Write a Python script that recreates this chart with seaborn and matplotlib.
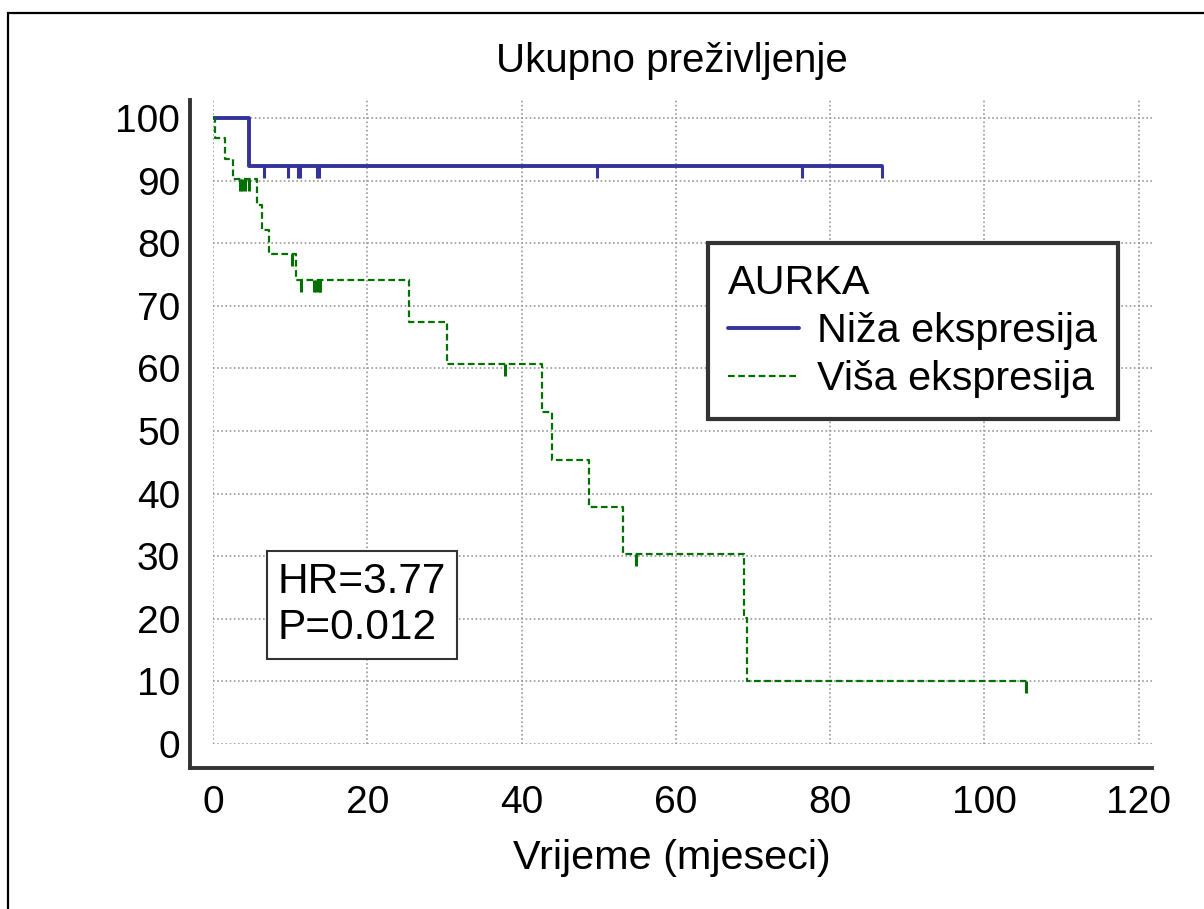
import numpy as np
import pandas as pd
import matplotlib
matplotlib.use('Agg')
import matplotlib.pyplot as plt
from matplotlib.path import Path
from matplotlib.patches import Rectangle
from matplotlib.ticker import MultipleLocator
import seaborn as sns

# krivulje prezivljenja (ocitano sa slike)
grupe = ['Niža ekspresija', 'Viša ekspresija']

niza_t = [0, 4.7, 86.7]
niza_s = [100, 92.3, 92.3]
niza_cens_t = [6.6, 9.7, 11.0, 11.3, 13.5, 13.8, 49.8, 76.3, 86.7]
niza_cens_s = [92.3] * len(niza_cens_t)

visa_t = [0, 0.2, 1.5, 2.55, 5.7, 6.4, 7.3, 10.8, 25.4, 30.3, 42.7, 44.0,
          48.7, 53.2, 68.9, 69.2, 105.4]
visa_s = [100, 96.8, 93.5, 90.3, 86.2, 82.2, 78.3, 74.2, 67.5, 60.7, 53.0,
          45.4, 37.9, 30.3, 20.2, 10.1, 10.1]
visa_cens_t = [3.5, 3.8, 4.2, 4.7, 10.2, 11.4, 13.1, 13.4, 13.7, 13.9, 37.9,
               54.8, 105.4]
visa_cens_s = [90.3] * 4 + [78.3] + [74.2] * 5 + [60.7, 30.3, 10.1]

x_ticks = [0, 20, 40, 60, 80, 100, 120]
y_ticks = [0, 10, 20, 30, 40, 50, 60, 70, 80, 90, 100]

boje = {'Niža ekspresija': '#333399', 'Viša ekspresija': '#007000'}

df = pd.DataFrame({
    'vrijeme': niza_t + visa_t,
    'prezivljenje': niza_s + visa_s,
    'grupa': [grupe[0]] * len(niza_t) + [grupe[1]] * len(visa_t),
})

sns.set_theme(style='white')
plt.rcParams['font.family'] = ['Liberation Sans', 'DejaVu Sans']
plt.rcParams['text.color'] = 'black'
plt.rcParams['axes.labelcolor'] = 'black'

fig = plt.figure(figsize=(12.04, 9.09), dpi=100)
ax = fig.add_axes([213 / 1204, 165 / 909, 938.7 / 1204, 644 / 909])

sns.lineplot(data=df, x='vrijeme', y='prezivljenje', hue='grupa', style='grupa',
             size='grupa', palette=boje,
             dashes={grupe[0]: '', grupe[1]: (3, 1.6)},
             sizes={grupe[0]: 2.8, grupe[1]: 1.6},
             estimator=None, sort=False, drawstyle='steps-post',
             legend=False, ax=ax, zorder=3)

# cenzurirani slucajevi - crtica prema dolje
crtica = Path([(0, 0), (0, -1)])
sns.scatterplot(x=niza_cens_t, y=niza_cens_s, marker=crtica, s=300,
                color=boje[grupe[0]], edgecolor=boje[grupe[0]], linewidth=2.2,
                ax=ax, zorder=4)
sns.scatterplot(x=visa_cens_t, y=visa_cens_s, marker=crtica, s=300,
                color=boje[grupe[1]], edgecolor=boje[grupe[1]], linewidth=2.2,
                ax=ax, zorder=4)

ax.set_xlim(0, 121.7)
ax.set_ylim(0, 102.9)
ax.set_xticks(x_ticks)
ax.set_yticks(y_ticks)
ax.xaxis.set_minor_locator(MultipleLocator(10))
ax.yaxis.set_minor_locator(MultipleLocator(5))

ax.grid(True, which='major', color='#999999', linestyle=(0, (1, 1.5)), linewidth=1.2)
ax.set_axisbelow(True)

for s in ['top', 'right']:
    ax.spines[s].set_visible(False)
ax.spines['left'].set_position(('outward', 16.6))
ax.spines['bottom'].set_position(('outward', 17.3))
ax.spines['left'].set_bounds(-3.83, 102.9)
ax.spines['bottom'].set_bounds(-2.98, 121.7)
for s in ['left', 'bottom']:
    ax.spines[s].set_color('#333333')
    ax.spines[s].set_linewidth(2.8)

ax.tick_params(which='major', direction='in', length=11.5, width=2.2,
               color='#333333', labelsize=28, pad=7, labelcolor='black')
ax.tick_params(which='minor', direction='in', length=5.8, width=1.4,
               color='#333333')
ax.tick_params(axis='x', which='major', pad=12)

ax.set_title('Ukupno preživljenje', fontsize=29, pad=20, x=0.489)
ax.set_xlabel('Vrijeme (mjeseci)', fontsize=29.8, labelpad=13, x=0.489)
ax.set_ylabel('')

leg = ax.legend(ax.lines[:2], grupe, title='AURKA', loc='upper left',
                bbox_to_anchor=(0.527, 0.778), fontsize=29.8, title_fontsize=29.8,
                alignment='left', frameon=True, fancybox=False, framealpha=1,
                handlelength=1.7, handletextpad=0.45, labelspacing=0.25,
                borderpad=0.5, borderaxespad=0)
leg.get_frame().set_edgecolor('#333333')
leg.get_frame().set_linewidth(3)

ax.text(0.069, 0.283, 'HR=3.77\nP=0.012', transform=ax.transAxes, fontsize=30.5,
        ha='left', va='top', linespacing=1.2,
        bbox=dict(boxstyle='square,pad=0.25', fc='white', ec='#333333', lw=1.5))

# okvir slike
fig.add_artist(Rectangle((8 / 1204, -0.1), 1.2, (909 - 13) / 909 + 0.1,
                         transform=fig.transFigure, fill=False, lw=1.6,
                         ec='black'))

fig.savefig('out.png', dpi=100)
